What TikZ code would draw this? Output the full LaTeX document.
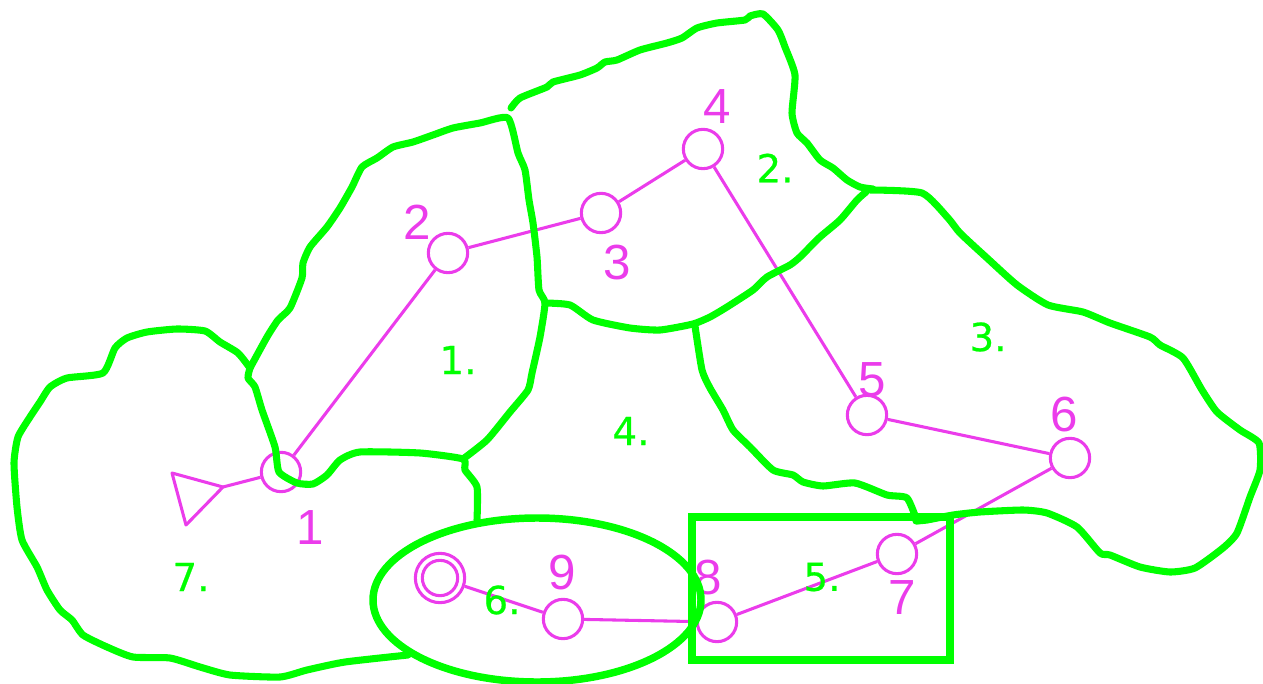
\documentclass[tikz,border=0pt]{standalone}
\usepackage{fontspec}
\setmainfont{DejaVu Sans}
\newfontfamily\numfont{Liberation Sans}
\newfontfamily\labfont[FakeBold=0.6]{DejaVu Sans}
\definecolor{gr}{RGB}{0,255,0}
\definecolor{mg}{RGB}{235,60,235}
\tikzset{x=0.75pt,y=-0.75pt,
 region/.style={draw=gr,line width=5.3pt,line join=round,line cap=round},
 link/.style={draw=mg,line width=2.3pt},
 state/.style={circle,draw=mg,line width=2.3pt,minimum size=29.5pt,inner sep=0pt},
 num/.style={text=mg,font=\numfont\fontsize{37}{37}\selectfont,inner sep=0pt},
 lab/.style={text=gr,font=\labfont\fontsize{29}{29}\selectfont,inner sep=0pt}}
\begin{document}
\begin{tikzpicture}
\useasboundingbox (0,0) rectangle (1263,684);
\node[state] (s1) at (281,472) {};
\node[state] (s2) at (448,253) {};
\node[state] (s3) at (601,213) {};
\node[state] (s4) at (703,149) {};
\node[state] (s5) at (867,415) {};
\node[state] (s6) at (1070,458) {};
\node[state] (s7) at (897,554) {};
\node[state] (s8) at (717,622) {};
\node[state] (s9) at (563,619) {};
\node[state,minimum size=37pt] (s0) at (440,578) {};
\node[state,minimum size=26.5pt] (s0i) at (440,578) {};
\coordinate (ta) at (223,487);
\coordinate (tb) at (172,473);
\coordinate (tc) at (186,525);
\draw[link,line join=round] (ta)--(tb)--(tc)--cycle;
\draw[link] (ta)--(s1);
\draw[link] (s1)--(s2);
\draw[link] (s2)--(s3);
\draw[link] (s3)--(s4);
\draw[link] (s4)--(s5);
\draw[link] (s5)--(s6);
\draw[link] (s6)--(s7);
\draw[link] (s7)--(s8);
\draw[link] (s8)--(s9);
\draw[link] (s9)--(s0);
% numbers
\node[num] at (310,528) {1};
\node[num] at (417,222) {2};
\node[num] at (617,263) {3};
\node[num] at (717,107) {4};
\node[num] at (872,380) {5};
\node[num] at (1064,415) {6};
\node[num] at (902,598) {7};
\node[num] at (708,578) {8};
\node[num] at (562,573) {9};
% regions
\draw[region] plot[smooth,tension=0.35] coordinates {(250,368)(267,337)(278,320)(290,308)(302,278)(303,263)(310,247)(327,227)(340,208)(352,187)(362,167)(377,158)(393,147)(413,142)(433,135)(453,128)(480,123)(508,118)(518,153)(525,170)(529,200)(533,223)(537,257)(539,290)(545,303)(540,337)(532,373)(528,390)(510,412)(487,440)(463,459)};
\draw[region] plot[smooth,tension=0.35] coordinates {(250,368)(248,378)(255,387)(262,410)(275,447)(279,472)(297,483)(313,484)(327,475)(340,460)(360,452)(420,453)(463,459)(465,470)(477,487)(477,520)};
\draw[region] plot[smooth,tension=0.35] coordinates {(511,108)(520,98)(547,87)(553,82)(580,75)(597,68)(605,62)(617,60)(640,50)(667,43)(682,38)(697,28)(717,23)(745,20)(750,16)(763,14)(778,30)(785,47)(795,75)(792,113)(797,133)(807,143)(820,160)(833,168)(847,180)(860,187)(873,189)};
\draw[region] plot[smooth,tension=0.35] coordinates {(866,192)(857,200)(840,220)(820,237)(800,257)(790,265)(767,277)(753,290)(727,307)(710,317)(693,324)(660,330)(630,328)(593,320)(570,305)(545,303)};
\draw[region] plot[smooth,tension=0.35] coordinates {(870,190)(922,193)(948,218)(960,233)(987,258)(1017,285)(1048,305)(1083,312)(1110,323)(1150,337)(1160,345)(1183,358)(1202,390)(1217,412)(1240,430)(1259,443)(1260,470)(1250,497)(1237,533)(1223,548)(1195,568)(1170,572)(1140,567)(1110,555)(1100,553)(1077,527)(1047,513)(1023,510)(980,512)(953,515)(927,520)(916,521)};
\draw[region] plot[smooth,tension=0.35] coordinates {(917,521)(907,498)(887,495)(855,483)(823,486)(803,482)(793,475)(773,470)(750,447)(733,430)(723,410)(710,388)(702,370)(695,326)};
\draw[region] plot[smooth,tension=0.35] coordinates {(250,368)(238,353)(220,342)(205,331)(177,329)(147,332)(127,338)(115,348)(103,373)(67,378)(50,387)(40,402)(30,417)(18,437)(14,463)(17,507)(22,540)(37,567)(47,590)(60,610)(72,620)(83,635)(107,647)(133,657)(170,658)(200,667)(230,675)(280,677)(307,670)(345,662)(408,655)};
\draw[region,line width=5.6pt] (537,600) ellipse (164 and 82);
\draw[region,line width=6.2pt,line cap=butt,line join=miter] (692,517) rectangle (950,660);
% labels
\node[lab] at (458,360) {1.};
\node[lab] at (775,168) {2.};
\node[lab] at (988,337) {3.};
\node[lab] at (631,431) {4.};
\node[lab] at (822,577) {5.};
\node[lab] at (502,600) {6.};
\node[lab] at (191,577) {7.};
\end{tikzpicture}
\end{document}
